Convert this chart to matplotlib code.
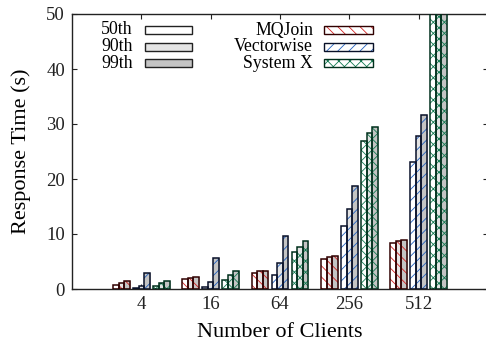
import matplotlib
matplotlib.use("Agg")
import matplotlib.pyplot as plt
from matplotlib.patches import Rectangle
import numpy as np

clients = ["4", "16", "64", "256", "512"]
systems = ["MQJoin", "Vectorwise", "System X"]
percentiles = ["50th", "90th", "99th"]

# values[system][percentile][client]
mqjoin_p50 = [0.8, 1.9, 3.0, 5.5, 8.4]
mqjoin_p90 = [1.15, 2.0, 3.2, 5.75, 8.8]
mqjoin_p99 = [1.45, 2.2, 3.3, 5.95, 8.9]
vw_p50 = [0.2, 0.3, 2.5, 11.5, 23.1]
vw_p90 = [0.5, 1.3, 4.8, 14.5, 27.8]
vw_p99 = [2.85, 5.6, 9.7, 18.8, 31.7]
sx_p50 = [0.5, 1.6, 6.7, 26.9, 55.0]
sx_p90 = [1.1, 2.5, 7.6, 28.4, 60.0]
sx_p99 = [1.45, 3.3, 8.7, 29.5, 65.0]

data = [[mqjoin_p50, mqjoin_p90, mqjoin_p99],
        [vw_p50, vw_p90, vw_p99],
        [sx_p50, sx_p90, sx_p99]]

fills = ["#ffffff", "#e4e4e4", "#c4c4c4"]
hatch_colors = ["#d42020", "#2060c0", "#107a50"]
edge_colors = ["#300000", "#081028", "#00301c"]
hatches = ["\\\\\\", "///", "xxx"]

plt.rcParams['font.family'] = ['Liberation Serif', 'DejaVu Serif']
plt.rcParams['hatch.linewidth'] = 0.6

W, H = 486, 348
fig = plt.figure(figsize=(W / 100, H / 100), dpi=100)
ax = fig.add_axes([72 / W, 1 - 289 / H, (488 - 72) / W, (289 - 14) / H])

x = np.arange(len(clients))
bw = 0.08
goff = 0.288
for s in range(3):
    for p in range(3):
        pos = x + (s - 1) * goff + (p - 1) * bw
        vals = data[s][p]
        # shadow
        ax.bar(pos + 0.016, vals, width=bw, color="#cccccc", linewidth=0, zorder=1)
        ax.bar(pos, vals, width=bw, color=fills[p], edgecolor=hatch_colors[s],
               hatch=hatches[s], linewidth=0, zorder=2)
        ax.bar(pos, vals, width=bw, facecolor="none", edgecolor=edge_colors[s],
               linewidth=1.1, zorder=3)

ax.set_xlim(-1, 5)
ax.set_ylim(0, 50)
ax.set_xticks(x)
ax.set_xticklabels(clients)
ax.set_yticks([0, 10, 20, 30, 40, 50])
ax.tick_params(direction='in', top=True, right=True, length=3.5, width=0.8,
               labelsize=13.5, colors='#222222', pad=5)
for sp in ax.spines.values():
    sp.set_linewidth(1.0)
    sp.set_color('#222222')
ax.set_xlabel("Number of Clients", fontsize=16, labelpad=7)
ax.set_ylabel("Response Time (s)", fontsize=16, labelpad=11)

# manual legend
row_y = [30, 46.7, 63.3]
ph = 8
for i, (lab, fc) in enumerate(zip(percentiles, fills)):
    yc = row_y[i]
    fig.text(133 / W, 1 - yc / H, lab, ha='right', va='center', fontsize=12.8)
    r = Rectangle((145 / W, 1 - (yc + ph / 2) / H), (192 - 145) / W, ph / H,
                  transform=fig.transFigure, facecolor=fc, edgecolor='#222222',
                  linewidth=1.0)
    fig.add_artist(r)
for i, lab in enumerate(systems):
    yc = row_y[i]
    fig.text(313 / W, 1 - yc / H, lab, ha='right', va='center', fontsize=12.8)
    r = Rectangle((324 / W, 1 - (yc + ph / 2) / H), (373 - 324) / W, ph / H,
                  transform=fig.transFigure, facecolor='white',
                  edgecolor=hatch_colors[i], hatch=hatches[i], linewidth=0)
    fig.add_artist(r)
    r2 = Rectangle((324 / W, 1 - (yc + ph / 2) / H), (373 - 324) / W, ph / H,
                   transform=fig.transFigure, facecolor='none',
                   edgecolor=edge_colors[i], linewidth=1.0)
    fig.add_artist(r2)

fig.savefig("out.png", dpi=100)
